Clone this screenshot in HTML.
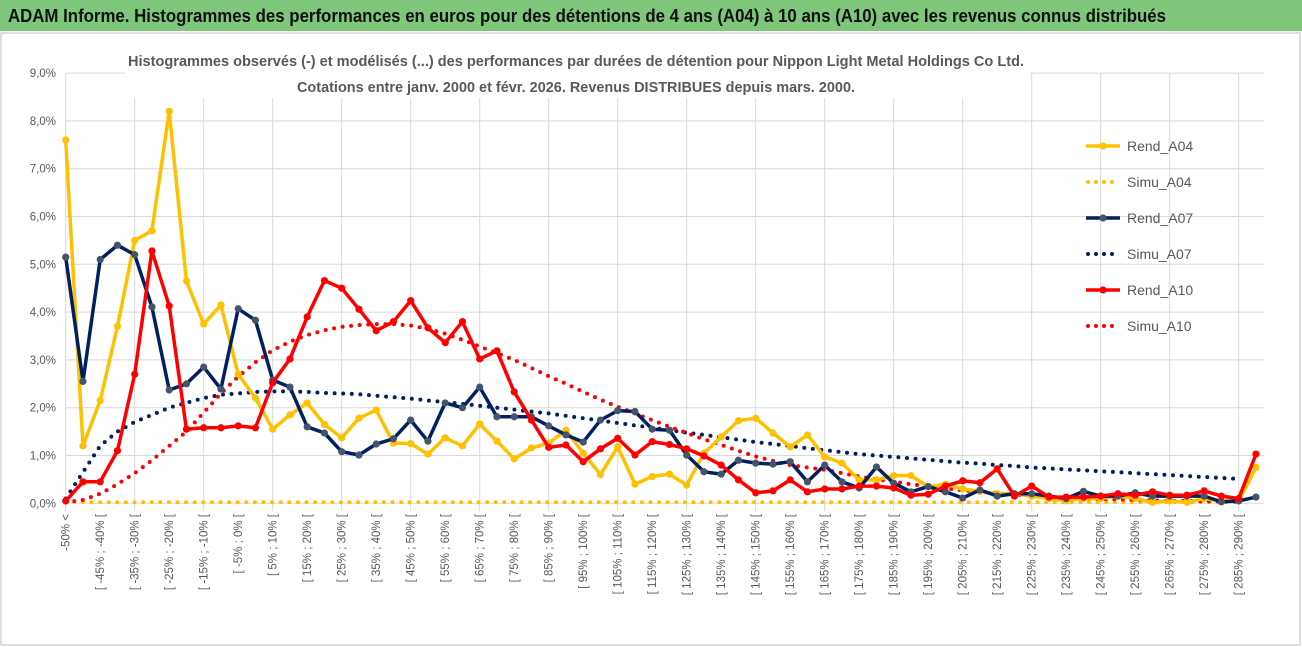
<!DOCTYPE html>
<html><head><meta charset="utf-8"><style>
html,body{margin:0;padding:0;background:#fff;}
svg{display:block;font-family:"Liberation Sans",sans-serif;}
</style></head><body>
<svg id="chart" width="1302" height="647" viewBox="0 0 1302 647" xmlns="http://www.w3.org/2000/svg">
<rect x="0" y="0" width="1302" height="647" fill="#fff"/>
<rect x="0" y="0" width="1302" height="31" fill="#7dc67a"/>
<text x="8" y="22" font-size="18" font-weight="bold" fill="#111" textLength="1158" lengthAdjust="spacingAndGlyphs">ADAM Informe. Histogrammes des performances en euros pour des détentions de 4 ans (A04) à 10 ans (A10) avec les revenus connus distribués</text>
<rect x="1" y="33" width="1299" height="612" fill="none" stroke="#bfbfbf"/>
<g id="grid"></g>
<rect x="125" y="44" width="905" height="54" fill="#fff"/>
<text x="576" y="66" font-size="14.5" font-weight="bold" fill="#595959" text-anchor="middle" textLength="896" lengthAdjust="spacingAndGlyphs">Histogrammes observés (-) et modélisés (...) des performances par durées de détention pour Nippon Light Metal Holdings Co Ltd.</text>
<text x="576" y="92" font-size="14.5" font-weight="bold" fill="#595959" text-anchor="middle" textLength="558" lengthAdjust="spacingAndGlyphs">Cotations entre janv. 2000 et févr. 2026. Revenus DISTRIBUES depuis mars. 2000.</text>
<g id="axes"></g>
<g id="series"></g>
<g id="legend"></g>
</svg>
<script>
const yTicks = [0,1,2,3,4,5,6,7,8,9];
const rendA04 = [7.6,1.2,2.15,3.7,5.5,5.7,8.2,4.65,3.75,4.15,2.7,2.2,1.55,1.85,2.1,1.65,1.37,1.78,1.95,1.26,1.25,1.03,1.37,1.2,1.66,1.3,0.93,1.16,1.26,1.53,1.05,0.6,1.18,0.4,0.56,0.61,0.38,1.05,1.39,1.73,1.78,1.47,1.18,1.43,0.97,0.84,0.49,0.49,0.58,0.58,0.35,0.4,0.3,0.25,0.2,0.2,0.15,0.1,0.05,0.1,0.1,0.15,0.1,0.02,0.05,0.02,0.1,0.05,0.05,0.75];
const rendA07 = [5.15,2.55,5.1,5.4,5.2,4.11,2.37,2.5,2.85,2.39,4.07,3.83,2.58,2.43,1.6,1.47,1.08,1.01,1.24,1.35,1.74,1.3,2.1,2.0,2.43,1.81,1.81,1.81,1.62,1.43,1.28,1.74,1.94,1.92,1.55,1.53,1.01,0.66,0.61,0.9,0.84,0.82,0.87,0.45,0.8,0.45,0.32,0.76,0.42,0.24,0.35,0.24,0.11,0.28,0.15,0.2,0.2,0.15,0.1,0.25,0.15,0.15,0.22,0.15,0.15,0.15,0.15,0.03,0.05,0.13];
const rendA10 = [0.05,0.45,0.45,1.1,2.7,5.28,4.13,1.55,1.58,1.58,1.62,1.58,2.52,3.02,3.9,4.66,4.5,4.06,3.61,3.8,4.24,3.67,3.36,3.8,3.02,3.19,2.33,1.74,1.17,1.22,0.87,1.14,1.36,1.01,1.29,1.23,1.14,0.99,0.8,0.49,0.22,0.26,0.49,0.24,0.3,0.3,0.36,0.36,0.32,0.17,0.19,0.36,0.47,0.43,0.72,0.15,0.36,0.13,0.13,0.13,0.15,0.2,0.17,0.24,0.17,0.17,0.26,0.15,0.1,1.03];
const simuA04 = [0.02,0.02,0.02,0.02,0.02,0.02,0.02,0.02,0.02,0.02,0.02,0.02,0.02,0.02,0.02,0.02,0.02,0.02,0.02,0.02,0.02,0.02,0.02,0.02,0.02,0.02,0.02,0.02,0.02,0.02,0.02,0.02,0.02,0.02,0.02,0.02,0.02,0.02,0.02,0.02,0.02,0.02,0.02,0.02,0.02,0.02,0.02,0.02,0.02,0.02,0.02,0.02,0.02,0.02,0.02,0.02,0.02,0.02,0.02,0.02,0.02,0.02,0.02,0.02,0.02,0.02,0.02,0.02,0.02];
const simuA07 = [0.1,0.65,1.2,1.5,1.7,1.85,2.0,2.1,2.2,2.27,2.3,2.33,2.34,2.34,2.33,2.31,2.3,2.28,2.25,2.22,2.19,2.15,2.12,2.08,2.04,2.0,1.96,1.92,1.88,1.83,1.78,1.73,1.68,1.63,1.58,1.53,1.48,1.43,1.38,1.33,1.28,1.24,1.2,1.15,1.11,1.07,1.03,1.0,0.97,0.94,0.91,0.88,0.85,0.83,0.8,0.78,0.75,0.73,0.71,0.69,0.67,0.65,0.63,0.61,0.59,0.57,0.55,0.53,0.51];
const simuA10 = [0.02,0.07,0.2,0.4,0.63,0.9,1.2,1.5,1.9,2.3,2.65,2.95,3.2,3.38,3.52,3.62,3.69,3.73,3.75,3.75,3.72,3.65,3.55,3.42,3.28,3.14,3.0,2.83,2.66,2.5,2.33,2.17,2.02,1.88,1.74,1.6,1.47,1.34,1.22,1.1,0.98,0.89,0.8,0.75,0.7,0.63,0.56,0.5,0.45,0.4,0.35,0.31,0.27,0.24,0.21,0.18,0.16,0.14,0.12,0.1,0.09,0.08,0.07,0.06,0.05,0.05,0.04,0.04,0.03];
const categories = ["-50% <"];
for (let lo = -50; lo < 295; lo += 5) categories.push("[ " + lo + "% ; " + (lo + 5) + "% [");
categories.length = 70;

const NS = "http://www.w3.org/2000/svg";
const X0 = 65.7, DX = 17.25, Y0 = 503.3, DY = 47.8;
function xs(i){ return X0 + i*DX; }
function ys(v){ return Y0 - v*DY; }
function mk(tag, attrs, parent){
  const e = document.createElementNS(NS, tag);
  for (const k in attrs) e.setAttribute(k, attrs[k]);
  parent.appendChild(e); return e;
}
const grid = document.getElementById("grid");
const axes = document.getElementById("axes");
const series = document.getElementById("series");
const legend = document.getElementById("legend");
const xEnd = xs(69) + 8;
yTicks.forEach(t => {
  const l = mk("line", {x1:X0, x2:xEnd, y1:ys(t), y2:ys(t), stroke:"#d9d9d9", "stroke-width":1}, grid);
  
  
  const tx = mk("text", {x:56, y:ys(t)+4, "font-size":11.5, fill:"#595959", "text-anchor":"end"}, axes);
  tx.textContent = t.toFixed(1).replace(".", ",") + "%";
  
  
});
categories.forEach((c, i) => {
  if (i % 4 === 0) {
    const l = mk("line", {x1:xs(i), x2:xs(i), y1:ys(9), y2:Y0+8, stroke:"#d9d9d9", "stroke-width":1}, grid);
    
    
  }
  if (i % 2 === 0) {
    const tx = mk("text", {x:0, y:0, "font-size":11.5, fill:"#595959", "text-anchor":"end", transform:"translate(" + (xs(i)+4) + "," + 514 + ") rotate(-90)"}, axes);
    tx.textContent = c;
    
    
  }
});
function pathOf(arr){ return arr.map((v,i)=> (i?"L":"M") + xs(i).toFixed(1) + "," + ys(v).toFixed(1)).join(" "); }
function dotted(arr, color, name){
  const p = mk("path", {d:pathOf(arr), fill:"none", stroke:color, "stroke-width":4, "stroke-linecap":"round", "stroke-dasharray":"0 8.6"}, series);
  
  
}
function solid(arr, color, mcolor, name){
  const g = mk("g", {}, series);
  
  
  mk("path", {d:pathOf(arr), fill:"none", stroke:color, "stroke-width":3.5, "stroke-linejoin":"round"}, g);
  arr.forEach((v,i)=>{
    const c = mk("circle", {cx:xs(i), cy:ys(v), r:3.6, fill:mcolor}, g);
    
    
  });
}
dotted(simuA04, "#ffc000", "simu-a04-line");
dotted(simuA07, "#002060", "simu-a07-line");
dotted(simuA10, "#ff0000", "simu-a10-line");
solid(rendA04, "#ffc000", "#ffc000", "rend-a04-line");
solid(rendA07, "#002060", "#44546a", "rend-a07-line");
solid(rendA10, "#ff0000", "#ff0000", "rend-a10-line");

const legendNames = ["Rend_A04","Simu_A04","Rend_A07","Simu_A07","Rend_A10","Simu_A10"];
const legendColors = ["#ffc000","#ffc000","#002060","#002060","#ff0000","#ff0000"];
legendNames.forEach((n, k) => {
  const y = 146 + k*36;
  const g = mk("g", {}, legend);
  
  
  if (k % 2 === 0) {
    mk("line", {x1:1086, x2:1120, y1:y, y2:y, stroke:legendColors[k], "stroke-width":3.5}, g);
    mk("circle", {cx:1103, cy:y, r:3.6, fill: k===2 ? "#44546a" : legendColors[k]}, g);
  } else {
    mk("line", {x1:1088, x2:1120, y1:y, y2:y, stroke:legendColors[k], "stroke-width":4, "stroke-linecap":"round", "stroke-dasharray":"0 8"}, g);
  }
  const t = mk("text", {x:1127, y:y+5, "font-size":14, fill:"#595959"}, g);
  t.textContent = n;
});
</script>
</body></html>
